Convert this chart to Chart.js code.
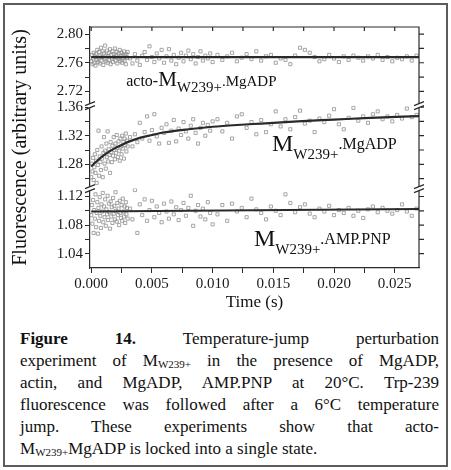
<!DOCTYPE html>
<html>
<head>
<meta charset="utf-8">
<script src="https://cdn.jsdelivr.net/npm/chart.js@4.4.0/dist/chart.umd.min.js"></script>
<style>
html, body { margin: 0; padding: 0; background: #fff; }
body { width: 451px; height: 470px; position: relative; overflow: hidden; font-family: "Liberation Serif", "Times New Roman", serif; color: #111; }
#frame { position: absolute; left: 3px; top: 3px; width: 445px; height: 464px; box-sizing: border-box; border: 2px solid #5c5c5c; }
#plot { position: absolute; left: 0; top: 0; }
#caption { position: absolute; left: 20px; top: 328px; width: 419px; font-size: 17px; line-height: 22px; }
#caption div { text-align: justify; text-align-last: justify; }
#caption div.last { text-align-last: left; }
#caption sub { font-size: 11px; vertical-align: -2px; line-height: 0; }
</style>
</head>
<body>
<div id="frame"></div>
<canvas id="plot" width="451" height="322"></canvas>
<div id="caption">
  <div><b>Figure</b> <b>14.</b> Temperature-jump perturbation</div>
  <div>experiment of M<sub>W239+</sub> in the presence of MgADP,</div>
  <div>actin, and MgADP, AMP.PNP at 20°C. Trp-239</div>
  <div>fluorescence was followed after a 6°C temperature</div>
  <div>jump. These experiments show that acto-</div>
  <div class="last">M<sub>W239+</sub>MgADP is locked into a single state.</div>
</div>
<script>
// sampling times (s), shared by the three traces
const times = [
  0, 0.00005, 0.0001, 0.00015, 0.0002, 0.00025, 0.0003, 0.00035, 0.0004, 0.00045,
  0.0005, 0.00055, 0.0006, 0.00065, 0.0007, 0.00075, 0.0008, 0.00085, 0.0009, 0.00095,
  0.001, 0.00105, 0.0011, 0.00115, 0.0012, 0.00125, 0.0013, 0.00135, 0.0014, 0.00145,
  0.0015, 0.00155, 0.0016, 0.00165, 0.0017, 0.00175, 0.0018, 0.00185, 0.0019, 0.00195,
  0.002, 0.00205, 0.0021, 0.00215, 0.0022, 0.00225, 0.0023, 0.00235, 0.0024, 0.00245,
  0.0025, 0.00255, 0.0026, 0.00265, 0.0027, 0.00275, 0.0028, 0.00285, 0.0029, 0.00295,
  0.003,
  0.0032, 0.0034, 0.0036, 0.0038, 0.004, 0.0042, 0.0044, 0.0046, 0.0048, 0.005,
  0.0052, 0.0054, 0.0056, 0.0058, 0.006, 0.0062, 0.0064, 0.0066, 0.0068, 0.007,
  0.0072, 0.0074, 0.0076, 0.0078, 0.008, 0.0082, 0.0084, 0.0086, 0.0088, 0.009,
  0.0092, 0.0094, 0.0096, 0.0098, 0.01,
  0.0104, 0.0108, 0.0112, 0.0116, 0.012, 0.0124, 0.0128, 0.0132, 0.0136, 0.014,
  0.0144, 0.0148, 0.0152, 0.0156, 0.016, 0.0164, 0.0168, 0.0172, 0.0176, 0.018,
  0.0184, 0.0188, 0.0192, 0.0196, 0.02, 0.0204, 0.0208, 0.0212, 0.0216, 0.022,
  0.0224, 0.0228, 0.0232, 0.0236, 0.024, 0.0244, 0.0248, 0.0252, 0.0256, 0.026,
  0.0264, 0.0268
];

// acto-M.MgADP
const actoValues = [
  2.762, 2.771, 2.758, 2.766, 2.774, 2.760, 2.769, 2.756, 2.772, 2.764,
  2.778, 2.761, 2.767, 2.775, 2.759, 2.770, 2.781, 2.763, 2.768, 2.776,
  2.757, 2.773, 2.765, 2.784, 2.762, 2.770, 2.777, 2.760, 2.769, 2.774,
  2.764, 2.779, 2.758, 2.771, 2.766, 2.776, 2.761, 2.772, 2.768, 2.780,
  2.763, 2.770, 2.775, 2.759, 2.767, 2.773, 2.765, 2.778, 2.762, 2.769,
  2.774, 2.760, 2.771, 2.766, 2.776, 2.763, 2.770, 2.758, 2.772, 2.767,
  2.775,
  2.766, 2.759, 2.772, 2.763, 2.757, 2.770, 2.775, 2.764, 2.783, 2.768,
  2.761, 2.773, 2.766, 2.778, 2.760, 2.769, 2.779, 2.763, 2.771, 2.758,
  2.767, 2.774, 2.762, 2.770, 2.777, 2.765, 2.772, 2.759, 2.768, 2.776,
  2.763, 2.770, 2.766, 2.773, 2.761,
  2.771, 2.764, 2.769, 2.774, 2.762, 2.767, 2.772, 2.765, 2.776, 2.763,
  2.769, 2.771, 2.760, 2.766, 2.764, 2.758, 2.770, 2.781, 2.778, 2.774,
  2.768, 2.762, 2.765, 2.771, 2.766, 2.761, 2.769, 2.764, 2.770, 2.767,
  2.763, 2.769, 2.766, 2.771, 2.764, 2.768, 2.762, 2.767, 2.765, 2.769,
  2.763, 2.770
];

// M.MgADP
const adpValues = [
  1.262, 1.281, 1.270, 1.289, 1.258, 1.276, 1.294, 1.268, 1.285, 1.254,
  1.300, 1.279, 1.327, 1.264, 1.291, 1.283, 1.272, 1.305, 1.288, 1.262,
  1.296, 1.318, 1.281, 1.299, 1.274, 1.309, 1.290, 1.326, 1.284, 1.301,
  1.293, 1.268, 1.311, 1.297, 1.283, 1.306, 1.292, 1.318, 1.300, 1.287,
  1.309, 1.296, 1.321, 1.303, 1.290, 1.312, 1.299, 1.285, 1.316, 1.305,
  1.294, 1.320, 1.302, 1.311, 1.288, 1.316, 1.307, 1.323, 1.298, 1.313,
  1.305,
  1.318, 1.305, 1.322, 1.311, 1.338, 1.316, 1.325, 1.347, 1.313, 1.328,
  1.350, 1.319, 1.309, 1.331, 1.324, 1.336, 1.310, 1.327, 1.342, 1.312,
  1.330, 1.321, 1.339, 1.326, 1.316, 1.334, 1.343, 1.324, 1.309, 1.331,
  1.338, 1.320, 1.335, 1.327, 1.340,
  1.343, 1.326, 1.338, 1.316, 1.347, 1.350, 1.331, 1.339, 1.322, 1.342,
  1.325, 1.336, 1.354, 1.333, 1.343, 1.329, 1.346, 1.355, 1.337, 1.341,
  1.325, 1.344, 1.339, 1.348, 1.357, 1.336, 1.329, 1.345, 1.359, 1.341,
  1.347, 1.338, 1.350, 1.354, 1.343, 1.347, 1.340, 1.349, 1.344, 1.358,
  1.346, 1.349
];

// M.AMP.PNP
const amppnpValues = [
  1.094, 1.108, 1.082, 1.115, 1.069, 1.101, 1.089, 1.123, 1.077, 1.097,
  1.112, 1.068, 1.104, 1.086, 1.119, 1.093, 1.076, 1.109, 1.099, 1.125,
  1.084, 1.106, 1.091, 1.116, 1.079, 1.102, 1.095, 1.121, 1.087, 1.110,
  1.098, 1.075, 1.113, 1.092, 1.105, 1.083, 1.118, 1.096, 1.107, 1.088,
  1.126, 1.100, 1.085, 1.111, 1.094, 1.103, 1.080, 1.114, 1.097, 1.090,
  1.108, 1.086, 1.117, 1.099, 1.092, 1.106, 1.083, 1.112, 1.095, 1.104,
  1.089,
  1.103, 1.088, 1.129, 1.069, 1.109, 1.094, 1.116, 1.086, 1.101, 1.114,
  1.091, 1.106, 1.097, 1.084, 1.110, 1.099, 1.089, 1.113, 1.095, 1.105,
  1.087, 1.101, 1.111, 1.093, 1.104, 1.121, 1.079, 1.100, 1.108, 1.092,
  1.103, 1.088, 1.112, 1.097, 1.081,
  1.095, 1.108, 1.086, 1.110, 1.099, 1.104, 1.091, 1.117, 1.102, 1.097,
  1.088, 1.106, 1.100, 1.094, 1.123, 1.111, 1.098, 1.105, 1.109, 1.096,
  1.091, 1.103, 1.099, 1.107, 1.094, 1.101, 1.097, 1.104, 1.093, 1.100,
  1.090, 1.102, 1.106, 1.098, 1.104, 1.100, 1.096, 1.101, 1.109, 1.099,
  1.093, 1.103
];

// fitted curves
const actoFitTimes = [0, 0.027];
const actoFit = [2.768, 2.768];
const adpFitTimes = [0, 0.0005, 0.001, 0.0015, 0.002, 0.0025, 0.003, 0.004, 0.005, 0.006, 0.008, 0.010, 0.012, 0.014, 0.017, 0.020, 0.023, 0.027];
const adpFit = [1.277, 1.285, 1.292, 1.298, 1.303, 1.307, 1.311, 1.317, 1.321, 1.3245, 1.329, 1.3325, 1.335, 1.337, 1.340, 1.3425, 1.345, 1.3475];
const amppnpFitTimes = [0, 0.027];
const amppnpFit = [1.099, 1.1025];

// tick labels
const xLabelTicks = [0, 0.005, 0.010, 0.015, 0.020, 0.025];
const xMinorTicks = [0.0025, 0.0075, 0.0125, 0.0175, 0.0225];
const actoTicks = [2.72, 2.76, 2.80];
const actoMinorTicks = [2.74, 2.78];
const adpTicks = [1.28, 1.32, 1.36];
const adpMinorTicks = [1.26, 1.30, 1.34];
const amppnpTicks = [1.04, 1.08, 1.12];
const amppnpMinorTicks = [1.06, 1.10];

const serif = '"Liberation Serif", "Times New Roman", serif';
const axisColor = '#2b2b2b';
const markColor = '#8f8f8f';
const fitColor = '#2a2a2a';

const pairs = (xs, ys) => xs.map((t, i) => ({x: t, y: ys[i]}));
const isIn = (list, v) => list.some(t => Math.abs(t - v) < 1e-9);

function yScale(major, minor, min, max, weight) {
  return {
    type: 'linear',
    position: 'left',
    stack: 'panels',
    stackWeight: weight,
    min: min,
    max: max,
    afterBuildTicks: s => { s.ticks = major.concat(minor).sort((a, b) => a - b).map(v => ({value: v})); },
    afterFit: s => { s.width = 90; },
    border: {display: true, color: axisColor, width: 1.2},
    grid: {drawOnChartArea: false, drawTicks: true, tickLength: 5, color: axisColor, lineWidth: 1},
    ticks: {
      font: {family: serif, size: 15},
      color: '#1a1a1a',
      padding: 2,
      autoSkip: false,
      callback: v => isIn(major, v) ? v.toFixed(2) : ''
    }
  };
}

const labelSpecs = [
  {axis: 'yActo', x: 0.00288, y: 2.728, parts: [
    {t: 'acto-', size: 16, dy: 0}, {t: 'M', size: 21, dy: 0}, {t: 'W239+', size: 15, dy: 6}, {t: '.MgADP', size: 15, dy: 0}]},
  {axis: 'yAdp', x: 0.01489, y: 1.2993, parts: [
    {t: 'M', size: 24, dy: 0}, {t: 'W239+', size: 15, dy: 8}, {t: '.MgADP', size: 16, dy: -2}]},
  {axis: 'yAmp', x: 0.0134, y: 1.0506, parts: [
    {t: 'M', size: 24, dy: 0}, {t: 'W239+', size: 15, dy: 8}, {t: '.AMP.PNP', size: 16, dy: -2}]}
];

const decor = {
  id: 'decor',
  afterDraw(chart) {
    const {ctx, chartArea: a, scales} = chart;
    const panels = [scales.yActo, scales.yAdp, scales.yAmp];
    ctx.save();
    ctx.strokeStyle = axisColor;
    ctx.lineWidth = 1.2;
    ctx.beginPath();
    ctx.moveTo(a.left, a.top);
    ctx.lineTo(a.right, a.top);
    ctx.lineTo(a.right, a.bottom);
    scales.x.ticks.forEach(t => {
      const px = scales.x.getPixelForValue(t.value);
      ctx.moveTo(px, a.top);
      ctx.lineTo(px, a.top + 4);
    });
    panels.forEach(s => s.ticks.forEach(t => {
      const py = s.getPixelForValue(t.value);
      ctx.moveTo(a.right, py);
      ctx.lineTo(a.right + 5, py);
    }));
    ctx.stroke();

    // axis breaks
    [scales.yActo.bottom, scales.yAdp.bottom].forEach(by => {
      [a.left, a.right].forEach(bx => {
        ctx.fillStyle = '#fff';
        ctx.fillRect(bx - 2, by - 2, 4, 4);
        ctx.beginPath();
        ctx.moveTo(bx - 5, by);
        ctx.lineTo(bx + 5, by - 4);
        ctx.moveTo(bx - 5, by + 4);
        ctx.lineTo(bx + 5, by);
        ctx.stroke();
      });
    });

    // y title
    ctx.fillStyle = '#111';
    ctx.font = '20px ' + serif;
    ctx.textAlign = 'center';
    ctx.textBaseline = 'middle';
    ctx.translate(21, (a.top + a.bottom) / 2);
    ctx.rotate(-Math.PI / 2);
    ctx.fillText('Fluorescence (arbitrary units)', 0, 0);
    ctx.setTransform(1, 0, 0, 1, 0, 0);

    // trace labels
    ctx.textAlign = 'left';
    ctx.textBaseline = 'alphabetic';
    labelSpecs.forEach(l => {
      let px = scales.x.getPixelForValue(l.x);
      const py = scales[l.axis].getPixelForValue(l.y);
      l.parts.forEach(p => {
        ctx.font = p.size + 'px ' + serif;
        ctx.fillText(p.t, px, py + p.dy);
        px += ctx.measureText(p.t).width;
      });
    });
    ctx.restore();
  }
};

const markStyle = {pointStyle: 'rect', pointRadius: 2.2, borderColor: markColor, backgroundColor: 'rgba(0,0,0,0)', borderWidth: 0.8, showLine: false, order: 1};
const fitStyle = {showLine: true, pointRadius: 0, borderColor: fitColor, borderWidth: 2.2, fill: false, order: 0};

new Chart(document.getElementById('plot'), {
  type: 'scatter',
  data: {
    datasets: [
      Object.assign({label: 'acto', data: pairs(times, actoValues), yAxisID: 'yActo'}, markStyle),
      Object.assign({label: 'adp', data: pairs(times, adpValues), yAxisID: 'yAdp'}, markStyle),
      Object.assign({label: 'amppnp', data: pairs(times, amppnpValues), yAxisID: 'yAmp'}, markStyle),
      Object.assign({label: 'acto fit', data: pairs(actoFitTimes, actoFit), yAxisID: 'yActo'}, fitStyle),
      Object.assign({label: 'adp fit', data: pairs(adpFitTimes, adpFit), yAxisID: 'yAdp', cubicInterpolationMode: 'monotone'}, fitStyle),
      Object.assign({label: 'amppnp fit', data: pairs(amppnpFitTimes, amppnpFit), yAxisID: 'yAmp'}, fitStyle)
    ]
  },
  options: {
    responsive: false,
    animation: false,
    devicePixelRatio: 1,
    layout: {padding: {left: 0, top: 27, right: 32, bottom: 0}},
    plugins: {legend: {display: false}, tooltip: {enabled: false}},
    scales: {
      x: {
        type: 'linear',
        position: 'bottom',
        min: -0.0001,
        max: 0.027,
        afterBuildTicks: s => { s.ticks = xLabelTicks.concat(xMinorTicks).sort((a, b) => a - b).map(v => ({value: v})); },
        afterFit: s => { s.height = 54; },
        border: {display: true, color: axisColor, width: 1.2},
        grid: {drawOnChartArea: false, drawTicks: true, tickLength: 5, color: axisColor, lineWidth: 1},
        ticks: {
          font: {family: serif, size: 15},
          color: '#1a1a1a',
          padding: 2,
          maxRotation: 0,
          autoSkip: false,
          callback: v => isIn(xLabelTicks, v) ? v.toFixed(3) : ''
        },
        title: {display: true, text: 'Time (s)', font: {family: serif, size: 17}, color: '#111', padding: {top: 0, bottom: 9}}
      },
      yAmp: yScale(amppnpTicks, amppnpMinorTicks, 1.02, 1.131, 0.111),
      yAdp: yScale(adpTicks, adpMinorTicks, 1.246, 1.362, 0.116),
      yActo: yScale(actoTicks, actoMinorTicks, 2.70, 2.81, 0.110)
    }
  },
  plugins: [decor]
});
</script>
</body>
</html>
